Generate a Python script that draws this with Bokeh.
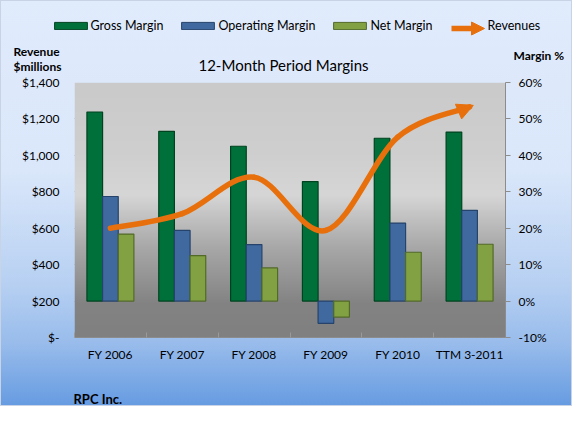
import numpy as np
from bokeh.plotting import figure
from bokeh.layouts import column
from bokeh.models import (Range1d, LinearAxis, FixedTicker, Legend, LegendItem,
                          Label, Arrow, NormalHead)
from bokeh.embed import file_html
from bokeh.resources import INLINE

# ---------------- data ----------------
categories = ["FY 2006", "FY 2007", "FY 2008", "FY 2009", "FY 2010", "TTM 3-2011"]
gross_margin = [51.9, 46.6, 42.5, 32.8, 44.7, 46.4]
operating_margin = [28.7, 19.4, 15.5, -6.1, 21.4, 24.9]
net_margin = [18.4, 12.5, 9.1, -4.4, 13.4, 15.6]
revenues = [600, 680, 880, 588, 1100, 1266]

revenue_ticks = [0, 200, 400, 600, 800, 1000, 1200, 1400]
revenue_tick_labels = ["$-", "$200", "$400", "$600", "$800", "$1,000", "$1,200", "$1,400"]
margin_ticks = [-10, 0, 10, 20, 30, 40, 50, 60]
margin_tick_labels = ["-10%", "0%", "10%", "20%", "30%", "40%", "50%", "60%"]

series_names = ["Gross Margin", "Operating Margin", "Net Margin", "Revenues"]

# ---------------- layout / style ----------------
W = 572
HH = 74                      # header (legend, title, axis titles)
BL, BR, BT, BB = 74, 67, 8, 35
FW, FH = W - BL - BR, 255
HM = BT + FH + BB            # main figure height
HF = 406 - HH - HM           # footer height
FONT = "Lato"
ORANGE = "#E8700C"
GREEN, GREEN_E = "#00703A", "#00431F"
BLUE, BLUE_E = "#40699F", "#26436B"
OLIVE, OLIVE_E = "#82A142", "#526A28"

n = len(categories)
xs = np.arange(n, dtype=float)
x_lo, x_hi = -0.5, n - 0.5
y_lo, y_hi = revenue_ticks[0], revenue_ticks[-1]
pxx = FW / (x_hi - x_lo)
pxy = FH / (y_hi - y_lo)

# ---------------- main chart ----------------
p = figure(width=W, height=HM, x_range=Range1d(x_lo, x_hi), y_range=Range1d(y_lo, y_hi),
           output_backend="svg", toolbar_location=None,
           min_border_left=BL, min_border_right=BR, min_border_top=BT, min_border_bottom=BB,
           border_fill_color=None, background_fill_color=None, outline_line_color=None)
p.extra_y_ranges = {"margin": Range1d(margin_ticks[0], margin_ticks[-1])}

# plot-area gradient (decoration)
ng = 256
f = np.linspace(0, 1, ng)
g = np.interp(f, [0, 0.13, 0.35, 0.56, 0.72, 1.0], [128, 131, 168, 214, 207, 202]).astype(np.uint8)
img = np.empty((ng, 1), dtype=np.uint32)
view = img.view(dtype=np.uint8).reshape((ng, 1, 4))
view[:, 0, 0] = g
view[:, 0, 1] = g
view[:, 0, 2] = g
view[:, 0, 3] = 255
p.image_rgba(image=[img], x=x_lo, y=y_lo, dw=x_hi - x_lo, dh=y_hi - y_lo)

p.xgrid.grid_line_color = None
p.ygrid.ticker = FixedTicker(ticks=revenue_ticks)
p.ygrid.grid_line_color = "#8A8A8A"
p.ygrid.grid_line_width = 1

la = p.yaxis[0]
la.ticker = FixedTicker(ticks=revenue_ticks)
la.major_label_overrides = dict(zip(revenue_ticks, revenue_tick_labels))
la.axis_line_color = None
la.major_tick_line_color = None
la.minor_tick_line_color = None
la.major_label_standoff = 9
la.major_label_text_font = FONT
la.major_label_text_font_size = "12px"
la.major_label_text_color = "#000000"

ra = LinearAxis(y_range_name="margin", ticker=FixedTicker(ticks=margin_ticks))
ra.major_label_overrides = dict(zip(margin_ticks, margin_tick_labels))
ra.axis_line_color = "#8C8C8C"
ra.major_tick_line_color = "#8C8C8C"
ra.major_tick_out = 5
ra.major_tick_in = 0
ra.minor_tick_line_color = None
ra.major_label_standoff = 8
ra.major_label_text_font = FONT
ra.major_label_text_font_size = "12px"
ra.major_label_text_color = "#000000"
p.add_layout(ra, "right")

xa = p.xaxis[0]
xa.ticker = FixedTicker(ticks=list(xs), minor_ticks=list(np.arange(n + 1) - 0.5))
xa.major_label_overrides = {float(i): c for i, c in zip(xs, categories)}
xa.axis_line_color = "#8C8C8C"
xa.major_tick_line_color = None
xa.major_tick_in = 0
xa.major_tick_out = 0
xa.minor_tick_line_color = "#9A9A9A"
xa.minor_tick_in = 5
xa.minor_tick_out = 0
xa.major_label_standoff = 9
xa.major_label_text_font = FONT
xa.major_label_text_font_size = "12px"
xa.major_label_text_color = "#000000"

bw = 0.218
p.vbar(x=xs - bw, width=bw, bottom=0, top=gross_margin, y_range_name="margin",
       fill_color=GREEN, line_color=GREEN_E, line_width=1.2)
p.vbar(x=xs, width=bw, bottom=0, top=operating_margin, y_range_name="margin",
       fill_color=BLUE, line_color=BLUE_E, line_width=1.2)
p.vbar(x=xs + bw, width=bw, bottom=0, top=net_margin, y_range_name="margin",
       fill_color=OLIVE, line_color=OLIVE_E, line_width=1.2)

# smoothed revenue line: Bezier segments through the data points
pts = np.column_stack([xs, np.array(revenues, dtype=float)])
x0s, y0s, x1s, y1s, cx0s, cy0s, cx1s, cy1s = ([] for _ in range(8))
for i in range(n - 1):
    prev = pts[i - 1] if i > 0 else pts[i]
    nxt2 = pts[i + 2] if i + 2 < n else pts[i + 1]
    c0 = pts[i] + (pts[i + 1] - prev) / 6.0
    c1 = pts[i + 1] - (nxt2 - pts[i]) / 6.0
    x0s.append(pts[i][0]); y0s.append(pts[i][1])
    x1s.append(pts[i + 1][0]); y1s.append(pts[i + 1][1])
    cx0s.append(c0[0]); cy0s.append(c0[1]); cx1s.append(c1[0]); cy1s.append(c1[1])
p.bezier(x0=x0s, y0=y0s, x1=x1s, y1=y1s, cx0=cx0s, cy0=cy0s, cx1=cx1s, cy1=cy1s,
         line_color=ORANGE, line_width=5.5, line_cap="round")

dxp = (x1s[-1] - cx1s[-1]) * pxx
dyp = (y1s[-1] - cy1s[-1]) * pxy
nrm = np.hypot(dxp, dyp)
ux, uy = dxp / nrm, dyp / nrm
ext, hs = 4.0, 16.0
tip_x = x1s[-1] + ux * ext / pxx
tip_y = y1s[-1] + uy * ext / pxy
p.add_layout(Arrow(end=NormalHead(size=hs, fill_color=ORANGE, line_color=ORANGE, line_width=1),
                   x_start=tip_x - ux * hs / pxx, y_start=tip_y - uy * hs / pxy,
                   x_end=tip_x, y_end=tip_y, line_color=None))

# ---------------- header: legend, title, axis titles ----------------
h = figure(width=W, height=HH, x_range=Range1d(0, W), y_range=Range1d(HH, 0),
           output_backend="svg", toolbar_location=None, min_border=0,
           min_border_left=0, min_border_right=0, min_border_top=0, min_border_bottom=0,
           x_axis_location=None, y_axis_location=None,
           border_fill_color=None, background_fill_color=None, outline_line_color=None)
h.xgrid.visible = False
h.ygrid.visible = False
# legend keys: hidden copies of the series (only their styles are shown in the legend)
kg = h.vbar(x=xs, top=gross_margin, width=bw, fill_color=GREEN, line_color=GREEN_E, visible=False)
ko = h.vbar(x=xs, top=operating_margin, width=bw, fill_color=BLUE, line_color=BLUE_E, visible=False)
kn = h.vbar(x=xs, top=net_margin, width=bw, fill_color=OLIVE, line_color=OLIVE_E, visible=False)
kr = h.line(x=xs, y=revenues, line_color=ORANGE, line_alpha=0, line_width=5.5, visible=False)
legend = Legend(items=[LegendItem(label=s, renderers=[r])
                       for s, r in zip(series_names, [kg, ko, kn, kr])],
                orientation="horizontal", location=(49.5, HH - 28 - 4.5),
                glyph_width=41, glyph_height=9, label_height=9, label_standoff=0,
                spacing=14, padding=0, margin=0, border_line_color=None,
                background_fill_alpha=0, label_text_font=FONT,
                label_text_font_size="12.5px", label_text_color="#000000")
h.add_layout(legend, "center")
# arrow-shaped key of the revenue series
h.add_layout(Arrow(end=NormalHead(size=13, fill_color=ORANGE, line_color=ORANGE, line_width=1),
                   x_start=451, y_start=28, x_end=484, y_end=28,
                   line_color=ORANGE, line_width=5.5, line_cap="butt"))

def txt(fig, x, y, s, size="12px", bold=False, align="left"):
    fig.add_layout(Label(x=x, y=y, text=s, text_font=FONT, text_font_size=size,
                         text_align=align, text_baseline="middle", text_color="#000000",
                         text_font_style="bold" if bold else "normal"))

txt(h, 283, 64.5, "12-Month Period Margins", size="15px", align="center")
txt(h, 13, 51, "Revenue", bold=True)
txt(h, 13, 66, "$millions", bold=True)
txt(h, 513, 55, "Margin %", bold=True)

# ---------------- footer ----------------
ft = figure(width=W, height=HF, x_range=Range1d(0, W), y_range=Range1d(HF, 0),
            output_backend="svg", toolbar_location=None, min_border=0,
            min_border_left=0, min_border_right=0, min_border_top=0, min_border_bottom=0,
            x_axis_location=None, y_axis_location=None,
            border_fill_color=None, background_fill_color=None, outline_line_color=None)
ft.xgrid.visible = False
ft.ygrid.visible = False
txt(ft, 73, 398 - HH - HM, "RPC Inc.", size="13px", bold=True)

for fig in (h, p, ft):
    if "frame_align" in fig.properties():
        fig.frame_align = False

page = column(h, p, ft, spacing=0, styles={
    "background": "linear-gradient(180deg, #E0EBFC 0%, #DAE7FA 42%, #B7D0F2 70%, #97BBEB 85%, #669BE1 100%)",
    "box-shadow": "inset 0 0 0 1px #C8D4E6",
})

open("out.html", "w").write(file_html(page, INLINE))
